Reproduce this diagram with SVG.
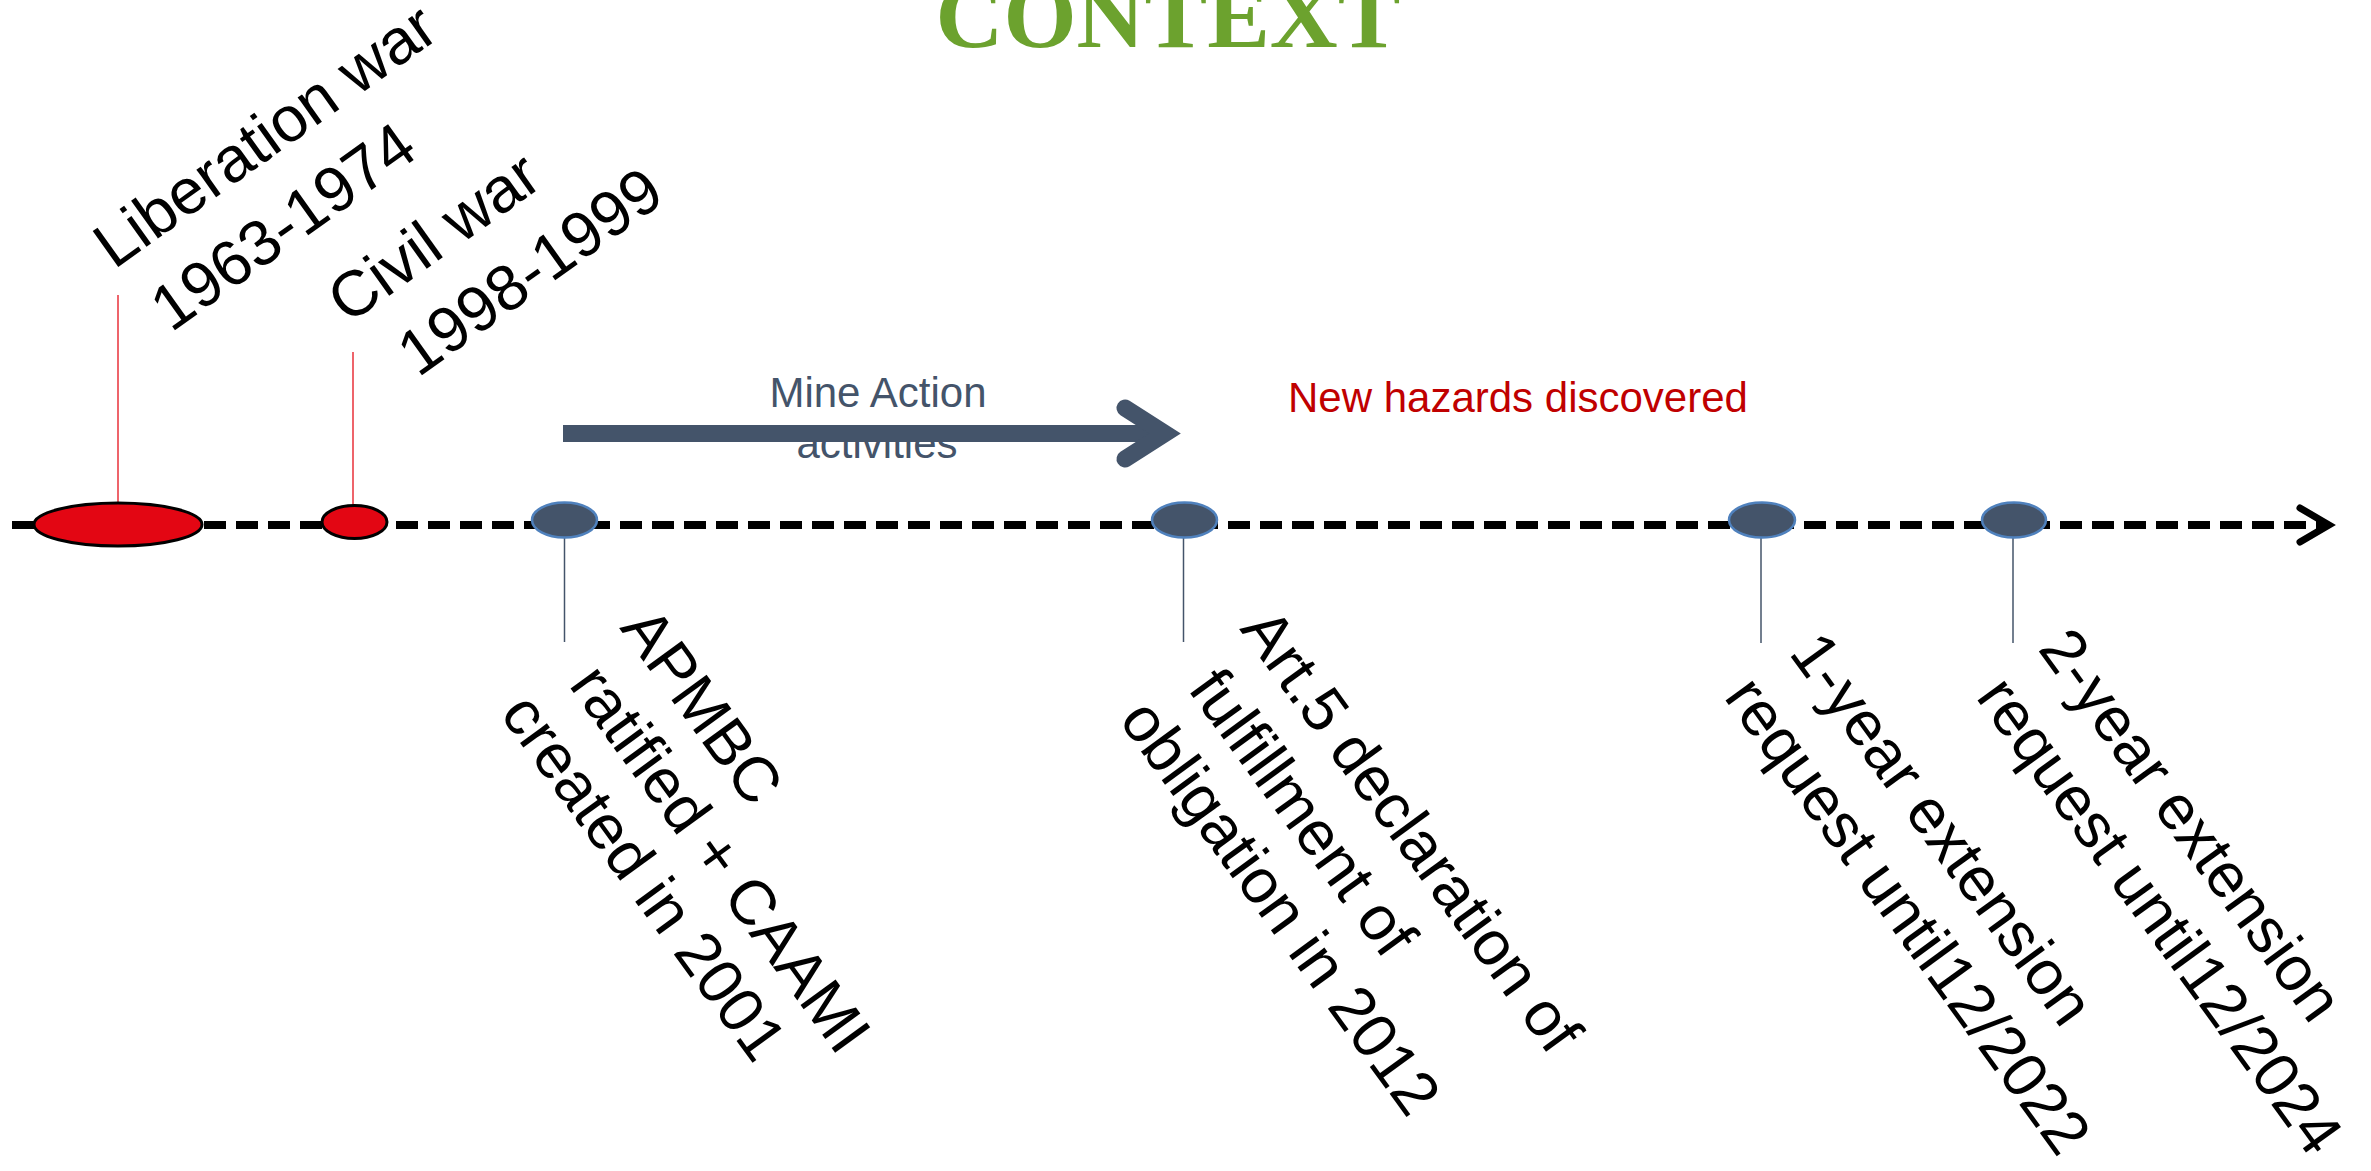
<svg xmlns="http://www.w3.org/2000/svg" width="2371" height="1171" viewBox="0 0 2371 1171">
<style>
.t{font-family:"Liberation Sans",Arial,sans-serif;fill:#000;font-size:64px}
.b{font-family:"Liberation Sans",Arial,sans-serif;fill:#000;font-size:63px}
.lbl{font-family:"Liberation Sans",Arial,sans-serif;font-size:42px}
.red{fill:#e30613;stroke:#000;stroke-width:3}
.blue{fill:#44546a;stroke:#4f81bd;stroke-width:2.5}
.rl{stroke:#e8313a;stroke-width:1.5;fill:none}
.sl{stroke:#44546a;stroke-width:1.5;fill:none}
</style>
<rect width="2371" height="1171" fill="#fff"/>
<text x="1168" y="47" text-anchor="middle" font-family="Liberation Serif,Times New Roman,serif" font-weight="bold" font-size="94" fill="#6ca22e">CONTEXT</text>

<g id="connectors">
  <line x1="12" y1="525" x2="2326" y2="525" stroke="#000" stroke-width="8" stroke-dasharray="22 10"/>
  <polyline points="2300,508 2329,525 2300,542" fill="none" stroke="#000" stroke-width="7" stroke-linejoin="miter" stroke-linecap="round"/>
  <line class="rl" x1="118" y1="295" x2="118" y2="503"/>
  <line class="rl" x1="353" y1="352" x2="353" y2="506"/>
  <line class="sl" x1="564.5" y1="537" x2="564.5" y2="642"/>
  <line class="sl" x1="1183.5" y1="537" x2="1183.5" y2="642"/>
  <line class="sl" x1="1761" y1="537" x2="1761" y2="643"/>
  <line class="sl" x1="2013" y1="537" x2="2013" y2="643"/>
</g>

<g id="mine-action">
  <text class="lbl" x="878" y="407" text-anchor="middle" fill="#44546a">Mine Action</text>
  <text class="lbl" x="877" y="458" text-anchor="middle" fill="#44546a">activities</text>
  <line x1="563" y1="433.5" x2="1160" y2="433.5" stroke="#44546a" stroke-width="17"/>
  <polyline points="1125,408 1165,433.5 1125,459" fill="none" stroke="#44546a" stroke-width="17" stroke-linejoin="miter" stroke-miterlimit="10" stroke-linecap="round"/>
</g>

<g id="new-hazards">
  <text class="lbl" x="1288" y="412" fill="#c00000" font-size="42.8">New hazards discovered</text>
</g>

<g id="liberation-war">
  <ellipse class="red" cx="118" cy="524.5" rx="84" ry="21.5"/>
  <text class="t" transform="translate(114,270) rotate(-35.5)">Liberation war</text>
  <text class="t" transform="translate(171,333) rotate(-35.5)">1963-1974</text>
</g>

<g id="civil-war">
  <ellipse class="red" cx="354.5" cy="522" rx="32.5" ry="16.5"/>
  <text class="t" transform="translate(348,325) rotate(-35.5)">Civil war</text>
  <text class="t" transform="translate(418,378) rotate(-35.5)">1998-1999</text>
</g>

<g id="apmbc">
  <ellipse class="blue" cx="564.5" cy="520" rx="32.5" ry="17.5"/>
  <text class="b" transform="translate(619,628) rotate(54)">APMBC</text>
  <text class="b" transform="translate(568,685) rotate(54)">ratified + CAAMI</text>
  <text class="b" transform="translate(499,714) rotate(54)">created in 2001</text>
</g>

<g id="art5">
  <ellipse class="blue" cx="1184.5" cy="520" rx="32.5" ry="17.5"/>
  <text class="b" transform="translate(1239,629) rotate(54)">Art.5 declaration of</text>
  <text class="b" transform="translate(1187,689) rotate(54)">fulfillment of</text>
  <text class="b" transform="translate(1118,720) rotate(54)">obligation in 2012</text>
</g>

<g id="ext-2022">
  <ellipse class="blue" cx="1762" cy="520" rx="33" ry="17.5"/>
  <text class="b" transform="translate(1788,653) rotate(54)">1-year extension</text>
  <text class="b" transform="translate(1723,697) rotate(54)">request until12/2022</text>
</g>

<g id="ext-2024">
  <ellipse class="blue" cx="2014" cy="520" rx="32" ry="17.5"/>
  <text class="b" transform="translate(2037,649) rotate(54)">2-year extension</text>
  <text class="b" transform="translate(1975,697) rotate(54)">request until12/2024</text>
</g>
</svg>
